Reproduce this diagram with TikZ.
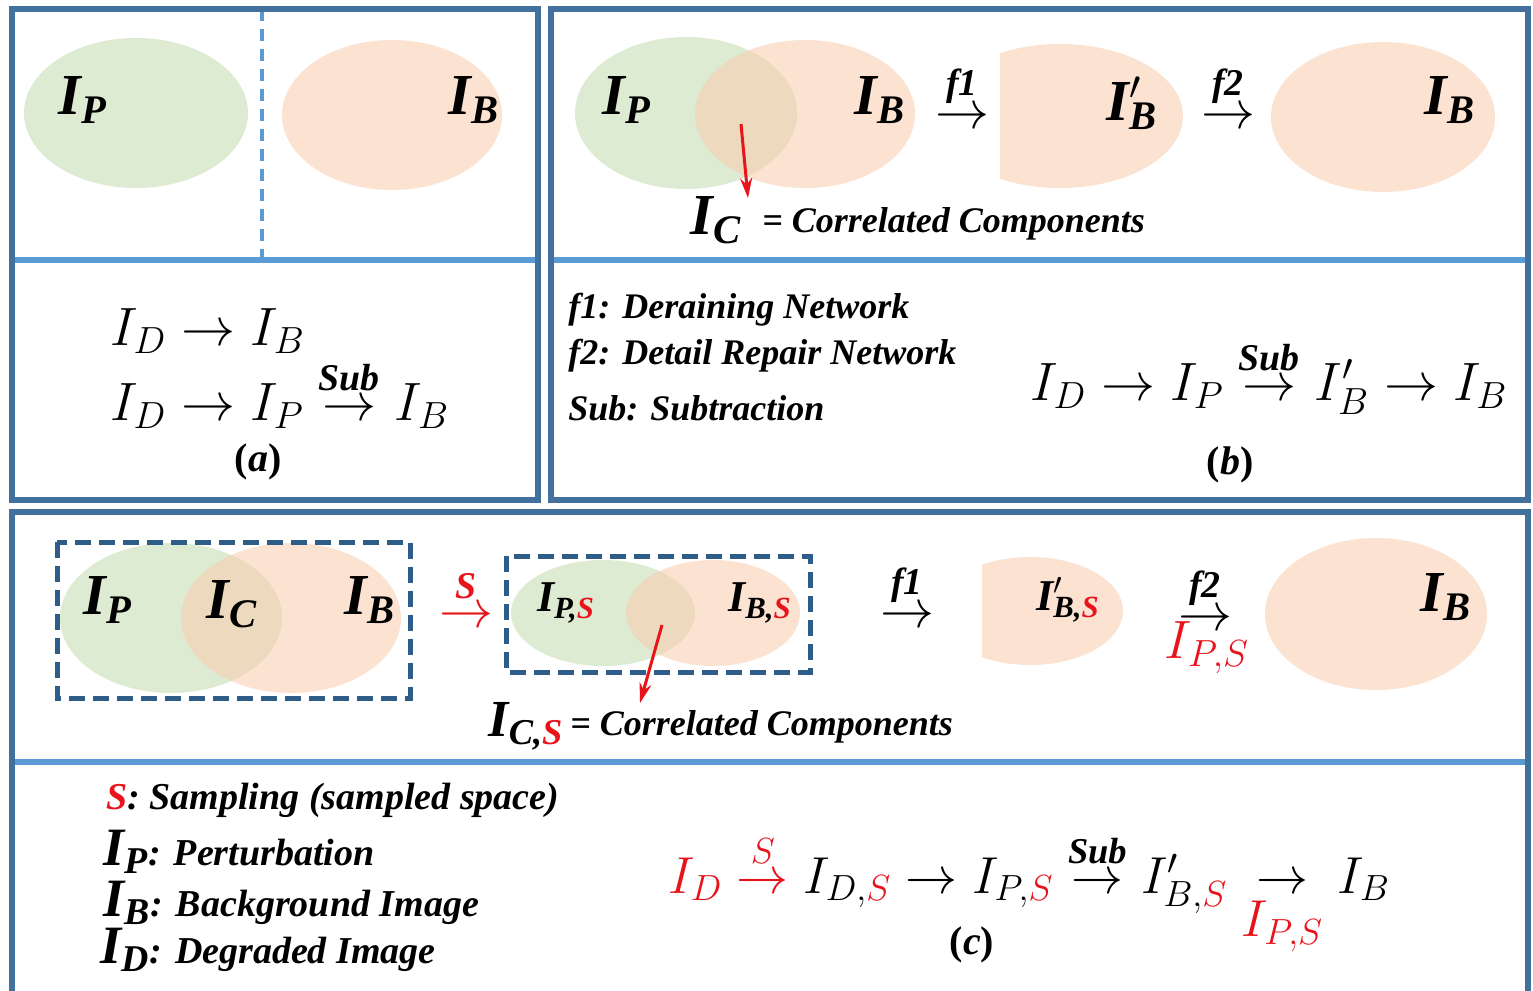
\documentclass[tikz,border=0pt]{standalone}
\usepackage{fix-cm}
\usepackage{amsmath}
\usepackage{fontspec}
\setmainfont{LiberationSerif}[Extension=.ttf,UprightFont=*-Regular,BoldFont=*-Bold,
  ItalicFont=*-Italic,BoldItalicFont=*-BoldItalic]
\usepackage{xcolor}
\usetikzlibrary{arrows.meta}
\definecolor{frameblue}{HTML}{41719C}
\definecolor{lineblue}{HTML}{5B9BD5}
\definecolor{boxblue}{HTML}{2F5D8A}
\definecolor{pertgreen}{HTML}{DEEBD3}
\definecolor{backorange}{HTML}{F8CBAD}
\definecolor{samplered}{HTML}{E8141B}
\newcommand{\primeI}{I\rlap{\textsuperscript{$\prime$}}}

\begin{document}
\begin{tikzpicture}[x=0.5pt,y=-0.5pt,
  frame/.style={draw=frameblue,line width=3pt},
  divider/.style={draw=lineblue,line width=3pt},
  pset/.style={fill=pertgreen},
  bset/.style={fill=backorange,fill opacity=0.55},
  dbox/.style={draw=boxblue,line width=2.5pt,dash pattern=on 8pt off 4pt},
  bigI/.style={font=\fontsize{29}{32}\selectfont\bfseries\itshape,inner sep=0pt},
  smallI/.style={font=\fontsize{22}{25}\selectfont\bfseries\itshape,inner sep=0pt},
  note/.style={font=\fontsize{18}{20}\selectfont\bfseries\itshape,inner sep=0pt},
  eqn/.style={font=\fontsize{27}{32}\selectfont,inner sep=0pt},
  hint/.style={-{Stealth[length=10pt,width=6pt]},draw=samplered,line width=1.5pt}]

\clip (0,0) rectangle (1533,991);
\fill[white] (0,0) rectangle (1533,991);

% Panel (a): separated sets
\fill[pset] (136,113) ellipse [x radius=112, y radius=75];
\fill[bset] (392,115) ellipse [x radius=110, y radius=75];
\draw[lineblue,line width=2pt,dash pattern=on 6pt off 4pt]
  (262,9) -- (262,260);
\draw[divider]
  (12,260) -- (538,260);
\draw[frame]
  (12,9) rectangle (538,500);

\node[bigI] (ipA) at (83,100) {I\textsubscript{P}};
\node[bigI] (ibA) at (474,100) {I\textsubscript{B}};

\node[eqn,anchor=base west] (eqA1) at (110,345) {$I_D \rightarrow I_B$};
\node[eqn,anchor=base west] (eqA2) at (110,420)
  {$I_D \rightarrow I_P \overset{\textbf{\textit{Sub}}}{\rightarrow} I_B$};
\node[note,font=\fontsize{20}{22}\selectfont\bfseries] (capA) at (258,462) {(\textit{a})};

% Panel (b): overlapping sets
\fill[pset] (686,113) ellipse [x radius=111, y radius=76];
\fill[bset] (805,114) ellipse [x radius=110, y radius=74];
\begin{scope}
  \clip (1000,0) rectangle (1200,260);
  \fill[bset] (1060,116) ellipse [x radius=123, y radius=72];
\end{scope}
\fill[bset] (1383,117) ellipse [x radius=112, y radius=75];
\draw[divider]
  (551,260) -- (1528,260);
\draw[frame]
  (551,9) rectangle (1528,500);

\node[bigI] (ipB) at (627,100) {I\textsubscript{P}};
\node[bigI] (ibB) at (880,100) {I\textsubscript{B}};
\node[eqn] (fB1) at (962,96) {$\overset{\textbf{\textit{f1}}}{\rightarrow}$};
\node[bigI] (ibpB) at (1132,103) {\primeI\textsubscript{B}};
\node[eqn] (fB2) at (1228,96) {$\overset{\textbf{\textit{f2}}}{\rightarrow}$};
\node[bigI] (ibB2) at (1450,100) {I\textsubscript{B}};

\node[bigI] (icB) at (716,220) {I\textsubscript{C}};
\node[note,anchor=west] (ccB) at (762,224) {= Correlated Components};
\coordinate (ovB) at (741,124);
\coordinate (tipB) at (748,198);
\draw[hint] (ovB) -- (tipB);

\node[note,anchor=west] (lgB1) at (568,310) {f1: Deraining Network};
\node[note,anchor=west] (lgB2) at (568,356) {f2: Detail Repair Network};
\node[note,anchor=west] (lgB3) at (568,408) {Sub: Subtraction};

\node[eqn,anchor=base west] (eqB) at (1030,400)
  {$I_D \rightarrow I_P \overset{\textbf{\textit{Sub}}}{\rightarrow} I'_B \rightarrow I_B$};
\node[note,font=\fontsize{20}{22}\selectfont\bfseries] (capB) at (1230,465) {(\textit{b})};

% Panel (c): sampled space
\fill[pset] (171,618) ellipse [x radius=111, y radius=75];
\fill[bset] (291,618) ellipse [x radius=110, y radius=75];
\draw[dbox] (57,542) rectangle (410,698);

\fill[pset] (603,613) ellipse [x radius=92, y radius=53];
\fill[bset] (713,613) ellipse [x radius=87, y radius=53];
\draw[dbox] (506,556) rectangle (810,672);

\begin{scope}
  \clip (982,500) rectangle (1140,700);
  \fill[bset] (1030,611) ellipse [x radius=93, y radius=54];
\end{scope}
\fill[bset] (1376,614) ellipse [x radius=111, y radius=76];

\draw[divider]
  (12,762) -- (1528,762);
\draw[frame]
  (12,512) rectangle (1528,1010);

\node[bigI] (ipC) at (108,600) {I\textsubscript{P}};
\node[bigI] (icC) at (232,604) {I\textsubscript{C}};
\node[bigI] (ibC) at (370,600) {I\textsubscript{B}};
\node[eqn,text=samplered] (sC) at (466,598) {$\overset{\textbf{\textit{S}}}{\rightarrow}$};
\node[smallI] (ipsC) at (566,603) {I\textsubscript{P,\textcolor{samplered}{S}}};
\node[smallI] (ibsC) at (760,603) {I\textsubscript{B,\textcolor{samplered}{S}}};
\node[eqn] (fC1) at (907,595) {$\overset{\textbf{\textit{f1}}}{\rightarrow}$};
\node[smallI] (ibpsC) at (1068,600) {\primeI\textsubscript{B,\textcolor{samplered}{S}}};
\node[eqn] (fC2) at (1205,598) {$\overset{\textbf{\textit{f2}}}{\rightarrow}$};
\node[eqn,text=samplered] (ipsC2) at (1207,648) {$I_{P,S}$};
\node[bigI] (ibC2) at (1446,597) {I\textsubscript{B}};

\node[bigI,font=\fontsize{26}{28}\selectfont\bfseries\itshape] (icsC) at (526,726)
  {I\textsubscript{C,\textcolor{samplered}{S}}};
\node[note,anchor=west] (ccC) at (570,727) {= Correlated Components};
\coordinate (ovC) at (662,625);
\coordinate (tipC) at (640,703);
\draw[hint] (ovC) -- (tipC);

\node[note,font=\fontsize{19}{22}\selectfont\bfseries\itshape,anchor=west] (lgC1) at (106,800)
  {\textcolor{samplered}{S}: Sampling (sampled space)};
\node[note,font=\fontsize{19}{22}\selectfont\bfseries\itshape,anchor=west] (lgC2) at (103,852)
  {{\fontsize{27}{28}\selectfont I\textsubscript{P}}: Perturbation};
\node[note,font=\fontsize{19}{22}\selectfont\bfseries\itshape,anchor=west] (lgC3) at (103,903)
  {{\fontsize{27}{28}\selectfont I\textsubscript{B}}: Background Image};
\node[note,font=\fontsize{19}{22}\selectfont\bfseries\itshape,anchor=west] (lgC4) at (100,950)
  {{\fontsize{27}{28}\selectfont I\textsubscript{D}}: Degraded Image};

\node[eqn,font=\fontsize{26}{30}\selectfont,anchor=base west] (eqC) at (668,893)
  {$\textcolor{samplered}{I_D} \mathrel{\textcolor{samplered}{\overset{S}{\rightarrow}}}
   I_{D,\textcolor{samplered}{S}} \rightarrow I_{P,\textcolor{samplered}{S}}
   \overset{\textbf{\textit{Sub}}}{\rightarrow} I'_{B,\textcolor{samplered}{S}}
   \underset{\textstyle\textcolor{samplered}{I_{P,S}}}{\rightarrow} I_B$};
\node[note,font=\fontsize{20}{22}\selectfont\bfseries] (capC) at (972,945) {(\textit{c})};

\end{tikzpicture}
\end{document}
